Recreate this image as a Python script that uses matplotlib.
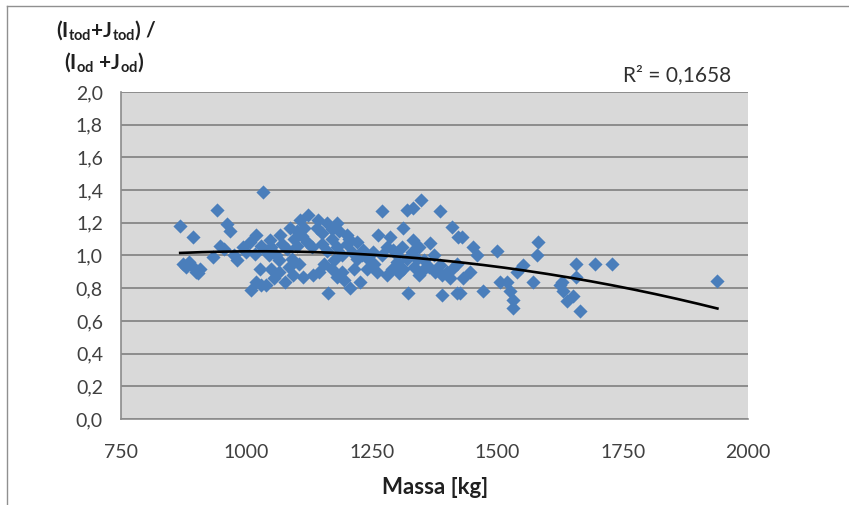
import numpy as np
import matplotlib
matplotlib.use("Agg")
import matplotlib.pyplot as plt
from matplotlib.lines import Line2D

plt.rcParams['font.family'] = ['Lato', 'DejaVu Sans']
plt.rcParams['mathtext.fontset'] = 'custom'
plt.rcParams['mathtext.rm'] = 'Lato'
plt.rcParams['mathtext.bf'] = 'Lato:bold'
plt.rcParams['mathtext.it'] = 'Lato:italic'

# mass [kg] and ratio values
massa = [868, 874, 880, 893, 894, 900, 904, 908, 885,
         942, 961, 967, 947, 934, 955, 975, 981, 994, 1000, 1007, 1020, 1017, 1027, 1020, 1010, 1030, 1034, 1040, 1030,
         1047, 1067, 1087, 1107, 1123, 1143, 1160, 1180, 1200, 1220,
         1100, 1115, 1140, 1150, 1110, 1095,
         1050, 1060, 1070, 1080, 1090, 1100, 1120, 1130, 1150, 1160, 1170, 1180, 1190, 1200, 1210, 1220,
         1175, 1155, 1105, 1085, 1065, 1050, 1055, 1077, 1093, 1113, 1133, 1040, 1163, 1207, 1226,
         1190, 1170, 1215, 1195, 1180, 1145, 1065, 1045, 1185, 1170, 1205,
         1349, 1333, 1270, 1320, 1386, 1313, 1409, 1422, 1263, 1286, 1333, 1366, 1233, 1253, 1293, 1374,
         1240, 1260, 1280, 1313, 1353, 1399, 1406, 1323, 1389, 1419, 1341, 1386, 1300,
         1230, 1245, 1255, 1270, 1280, 1300, 1310, 1320, 1330, 1345, 1355, 1365, 1375, 1390, 1410, 1420,
         1290, 1305, 1335, 1345,
         1429, 1452, 1459, 1499, 1582, 1579, 1552, 1539, 1506, 1519, 1525, 1532, 1532, 1572, 1472, 1446,
         1426, 1432, 1625,
         1658, 1695, 1728, 1658, 1629, 1632, 1652, 1639, 1665, 1939]
forhold = [1.18, 0.95, 0.93, 1.115, 0.93, 0.90, 0.89, 0.92, 0.96,
           1.28, 1.19, 1.15, 1.06, 0.99, 1.04, 1.00, 0.97, 1.05, 1.02, 1.08, 1.125, 1.01, 0.92, 0.84, 0.79, 0.82, 1.39, 1.03, 1.06,
           1.095, 1.125, 1.166, 1.217, 1.248, 1.217, 1.197, 1.197, 1.125, 1.084,
           1.15, 1.17, 1.17, 1.14, 1.12, 1.10,
           1.05, 1.00, 1.07, 1.04, 0.98, 1.06, 1.08, 1.05, 1.07, 1.03, 1.10, 1.05, 1.00, 1.07, 1.02, 0.98,
           0.97, 0.95, 0.95, 0.93, 0.90, 0.92, 0.86, 0.84, 0.88, 0.87, 0.88, 0.82, 0.77, 0.80, 0.84,
           0.90, 0.92, 0.92, 0.85, 0.87, 0.90, 0.97, 1.00, 1.15, 1.16, 1.10,
           1.34, 1.29, 1.27, 1.28, 1.27, 1.166, 1.176, 1.115, 1.125, 1.115, 1.095, 1.075, 1.034, 1.023, 1.034, 1.003,
           0.92, 0.90, 0.88, 0.92, 0.91, 0.90, 0.86, 0.77, 0.76, 0.77, 0.98, 0.94, 0.96,
           1.00, 0.97, 0.95, 1.00, 1.05, 1.00, 1.05, 0.98, 1.02, 1.05, 0.97, 0.93, 0.90, 0.88, 0.92, 0.95,
           0.92, 0.89, 0.93, 0.88,
           1.115, 1.054, 1.003, 1.027, 1.084, 1.003, 0.94, 0.90, 0.84, 0.84, 0.78, 0.73, 0.68, 0.84, 0.78, 0.90,
           0.77, 0.86, 0.82,
           0.95, 0.95, 0.946, 0.87, 0.84, 0.78, 0.75, 0.72, 0.66, 0.846]

xticks = [750, 1000, 1250, 1500, 1750, 2000]
yticks = [0.0, 0.2, 0.4, 0.6, 0.8, 1.0, 1.2, 1.4, 1.6, 1.8, 2.0]

fig = plt.figure(figsize=(8.49, 5.05), dpi=100)
ax = fig.add_axes([121/849, 1-419/505, (748-121)/849, (419-92)/505])
ax.set_facecolor('#d9d9d9')

ax.scatter(massa, forhold, marker='D', s=52, color='#4a7ebb', zorder=3, linewidths=0)

# polynomial (order 2) trend line
c = np.polyfit(massa, forhold, 2)
xs = np.linspace(min(massa), max(massa), 200)
ax.plot(xs, np.polyval(c, xs), color='black', lw=1.9, zorder=4)

ax.set_xlim(750, 2000)
ax.set_ylim(0, 2.0)
ax.set_xticks(xticks)
ax.set_yticks(yticks)
ax.set_yticklabels([f'{v:.1f}'.replace('.', ',') for v in yticks])
ax.tick_params(axis='both', length=0, labelsize=14, colors='#404040')
ax.tick_params(axis='y', pad=13)
ax.tick_params(axis='x', pad=18)
ax.grid(axis='y', color='#8c8c8c', lw=1.4)
ax.set_axisbelow(True)
for s in ['top', 'right']:
    ax.spines[s].set_visible(False)
for s in ['left', 'bottom']:
    ax.spines[s].set_color('#8c8c8c')
    ax.spines[s].set_linewidth(1.2)

fig.text(106/849, 1-30/505, r'$\mathbf{(I_{tod}{+}J_{tod})}$ /', ha='center', va='center',
         fontsize=15, fontweight='bold', color='#202020')
fig.text(104/849, 1-62/505, r'$\mathbf{(I_{od}\ {+}J_{od})}$', ha='center', va='center',
         fontsize=15, fontweight='bold', color='#202020')
fig.text(677/849, 1-75/505, 'R² = 0,1658', ha='center', va='center', fontsize=15, color='#303030')
fig.text(435/849, 1-487/505, 'Massa [kg]', ha='center', va='center', fontsize=16,
         fontweight='bold', color='#202020')

fig.add_artist(Line2D([7/849, 7/849], [0, 1-6/505], transform=fig.transFigure, color='#909090', lw=1))
fig.add_artist(Line2D([7/849, 1], [1-6/505, 1-6/505], transform=fig.transFigure, color='#909090', lw=1))

fig.savefig('out.png', dpi=100)
